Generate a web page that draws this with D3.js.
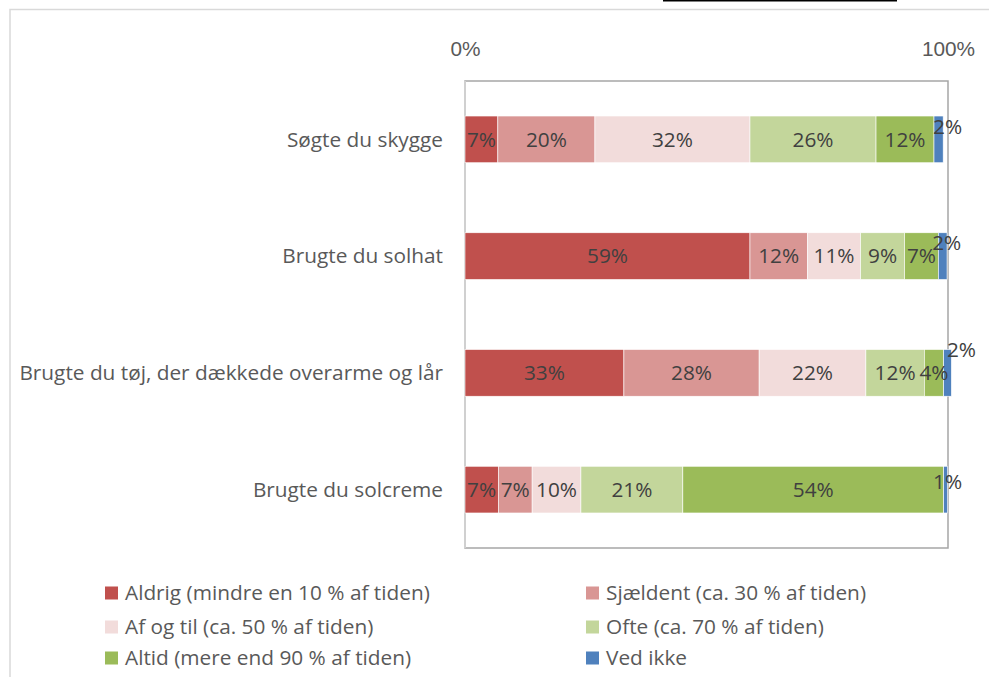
<!DOCTYPE html>
<html>
<head>
<meta charset="utf-8">
<script src="https://cdn.jsdelivr.net/npm/d3@7"></script>
<style>
  html, body { margin: 0; padding: 0; background: #fff; }
  svg { display: block; font-family: "Open Sans", "Noto Sans", sans-serif; }
</style>
</head>
<body>
<svg id="chart" width="989" height="677"></svg>
<script>
const questions = [
  "Søgte du skygge",
  "Brugte du solhat",
  "Brugte du tøj, der dækkede overarme og lår",
  "Brugte du solcreme"
];
const answers = [
  "Aldrig (mindre en 10 % af tiden)",
  "Sjældent (ca. 30 % af tiden)",
  "Af og til (ca. 50 % af tiden)",
  "Ofte (ca. 70 % af tiden)",
  "Altid (mere end 90 % af tiden)",
  "Ved ikke"
];
const answerColors = ["#c0504d", "#d99694", "#f2dcdb", "#c3d69b", "#9bbb59", "#4f81bd"];

// percent per answer, one array per question
const skygge = [6.8, 20.1, 32.1, 26.1, 12.0, 1.9];
const solhat = [59.0, 11.9, 11.0, 9.1, 7.0, 1.8];
const toej = [32.9, 28.0, 22.1, 12.1, 4.0, 1.6];
const solcreme = [6.9, 7.0, 10.1, 21.1, 54.0, 0.8];
const seriesValues = [skygge, solhat, toej, solcreme];

const xTickValues = [0, 100];

const fontSize = "20.8px";
const svg = d3.select("#chart");

// outer frame + text cut off above the chart
svg.append("path")
  .attr("d", "M10,677 L10,9.5 L989,9.5")
  .attr("fill", "none")
  .attr("stroke", "#d9d9d9")
  .attr("stroke-width", 1.5);
svg.append("line")
  .attr("x1", 663).attr("x2", 897).attr("y1", 0.8).attr("y2", 0.8)
  .attr("stroke", "#000").attr("stroke-width", 1.6);

const plot = { left: 465, right: 948, top: 81, bottom: 548 };

const x = d3.scaleLinear().domain([0, 100]).range([plot.left, plot.right]);
const y = d3.scaleBand()
  .domain(questions)
  .range([plot.top, plot.bottom])
  .paddingInner(0.6)
  .paddingOuter(0.3);

// plot area border
svg.append("rect")
  .attr("x", plot.left).attr("y", plot.top)
  .attr("width", plot.right - plot.left)
  .attr("height", plot.bottom - plot.top)
  .attr("fill", "none")
  .attr("stroke", "#a6a6a6")
  .attr("stroke-width", 1.5);
svg.append("line")
  .attr("x1", plot.left).attr("x2", plot.left)
  .attr("y1", plot.top).attr("y2", plot.bottom)
  .attr("stroke", "#d0d0d0")
  .attr("stroke-width", 2);

// top axis: only 0% and 100%
const xAxis = d3.axisTop(x)
  .tickValues(xTickValues)
  .tickSize(0)
  .tickFormat(d => d + "%");
const gx = svg.append("g")
  .attr("transform", `translate(0,${plot.top - 22})`)
  .call(xAxis);
gx.select(".domain").remove();
gx.selectAll("text")
  .attr("fill", "#595959")
  .style("font-size", fontSize)
  .style("font-family", null);

// category labels
svg.append("g").selectAll("text")
  .data(questions)
  .join("text")
  .attr("x", plot.left - 22)
  .attr("y", d => y(d) + y.bandwidth() / 2)
  .attr("dy", "0.35em")
  .attr("text-anchor", "end")
  .attr("fill", "#595959")
  .style("font-size", fontSize)
  .text(d => d);

// stacked segments
const rows = questions.map((q, i) => {
  let acc = 0;
  return {
    key: q,
    segs: seriesValues[i].map((v, j) => {
      const s = { answer: j, x0: acc, x1: acc + v, value: v };
      acc += v;
      return s;
    })
  };
});

// manually moved labels of the thin "Ved ikke" segments
const labelNudge = [[9, -13], [4, -13], [14, -23], [2, -8]];

const gRows = svg.append("g").selectAll("g")
  .data(rows)
  .join("g")
  .attr("transform", d => `translate(0,${y(d.key)})`);

gRows.selectAll("rect")
  .data(d => d.segs)
  .join("rect")
  .attr("x", d => x(d.x0))
  .attr("width", d => x(d.x1) - x(d.x0))
  .attr("y", 0)
  .attr("height", y.bandwidth())
  .attr("fill", d => answerColors[d.answer])
  .attr("stroke", "#fff")
  .attr("stroke-width", 0.6);

gRows.each(function(row, i) {
  d3.select(this).selectAll("text")
    .data(row.segs)
    .join("text")
    .attr("x", d => (x(d.x0) + x(d.x1)) / 2 + (d.answer === 5 ? labelNudge[i][0] : 0))
    .attr("y", d => y.bandwidth() / 2 + (d.answer === 5 ? labelNudge[i][1] : 0))
    .attr("dy", "0.35em")
    .attr("text-anchor", "middle")
    .attr("fill", "#404040")
    .style("font-size", fontSize)
    .text(d => Math.round(d.value) + "%");
});

// legend, two columns
const legendCols = [105, 586];
const legendRows = [593, 627, 658];
const legend = svg.append("g").selectAll("g")
  .data(answers)
  .join("g")
  .attr("transform", (d, i) => `translate(${legendCols[i % 2]},${legendRows[Math.floor(i / 2)]})`);
legend.append("rect")
  .attr("x", 0).attr("y", -6.5)
  .attr("width", 13).attr("height", 13)
  .attr("fill", (d, i) => answerColors[i]);
legend.append("text")
  .attr("x", 20)
  .attr("dy", "0.35em")
  .attr("fill", "#595959")
  .style("font-size", fontSize)
  .text(d => d);
</script>
</body>
</html>
